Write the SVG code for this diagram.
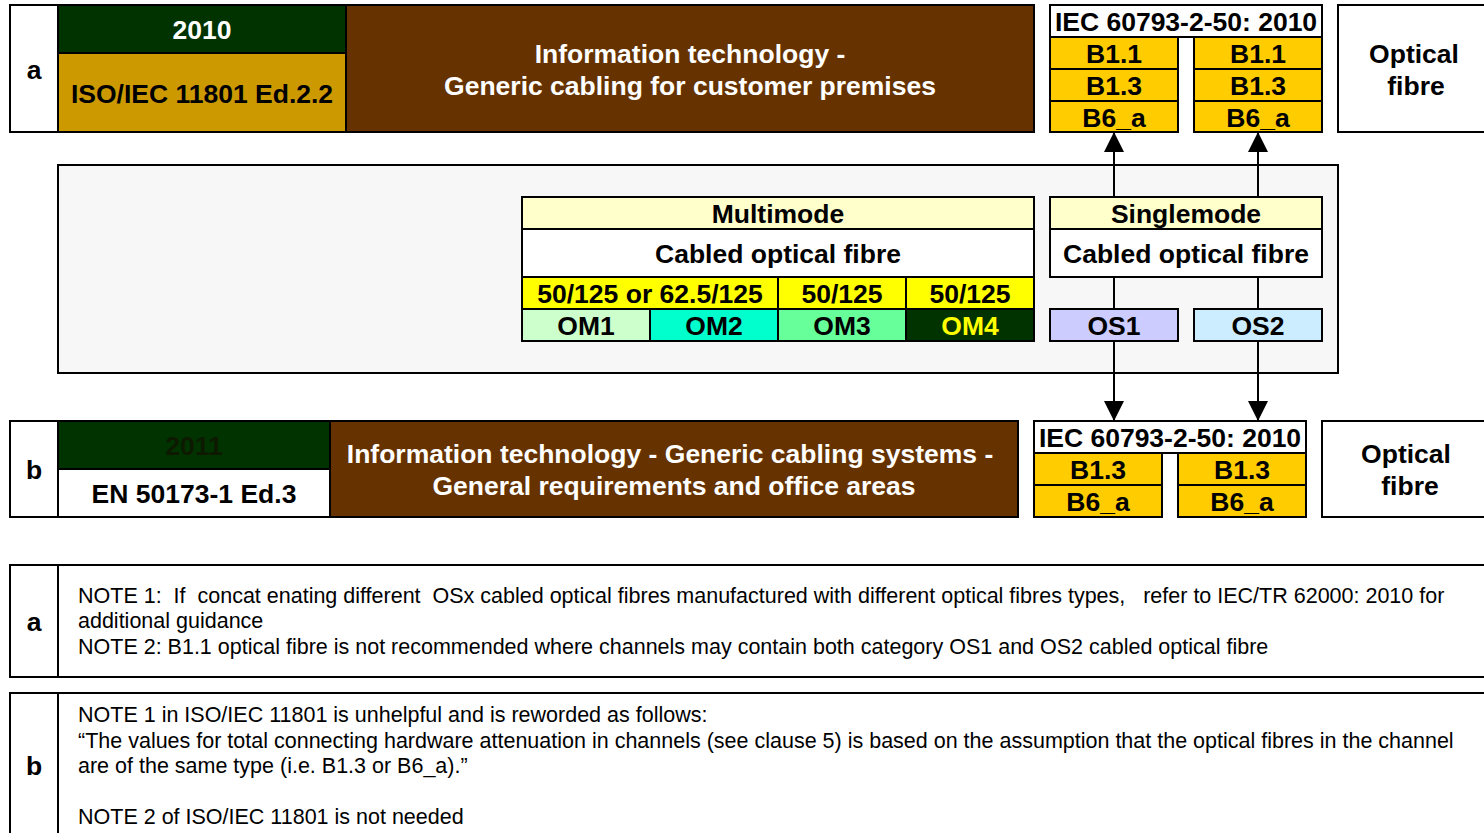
<svg xmlns="http://www.w3.org/2000/svg" width="1484" height="833" viewBox="0 0 1484 833">
<style>
.c{stroke:#000;stroke-width:2}
.b{font-family:"Liberation Sans",Arial,sans-serif;font-weight:bold;font-size:26.5px;text-anchor:middle}
.n{font-family:"Liberation Sans",Arial,sans-serif;font-size:21.5px;white-space:pre}
.w{fill:#fff}
.k{fill:#000}
.ln{stroke:#000;stroke-width:2;fill:none}
</style>
<defs>
<marker id="ahb" viewBox="0 0 20 20" refX="20" refY="10" markerWidth="20" markerHeight="20" markerUnits="userSpaceOnUse" orient="auto"><path d="M0,0 L20,10 L0,20 z" fill="#000"/></marker>
</defs>
<rect width="1484" height="833" fill="#fff"/>

<g id="row-a">
<rect class="c" x="10" y="5" width="48" height="127" fill="#fff"/>
<text class="b k" x="34" y="79">a</text>
<rect class="c" x="58" y="5" width="288" height="48" fill="#003300"/>
<text class="b w" x="202" y="39">2010</text>
<rect class="c" x="58" y="53" width="288" height="79" fill="#CC9900"/>
<text class="b k" x="202" y="103">ISO/IEC 11801 Ed.2.2</text>
<rect class="c" x="346" y="5" width="688" height="127" fill="#663300"/>
<text class="b w" x="690" y="63">Information technology -</text>
<text class="b w" x="690" y="95">Generic cabling for customer premises</text>
</g>

<g id="iec-a">
<rect class="c" x="1050" y="5" width="272" height="32" fill="#fff"/>
<text class="b k" x="1186" y="31">IEC 60793-2-50: 2010</text>
<rect class="c" x="1050" y="37" width="128" height="32" fill="#FFCC00"/>
<text class="b k" x="1114" y="63">B1.1</text>
<rect class="c" x="1050" y="69" width="128" height="32" fill="#FFCC00"/>
<text class="b k" x="1114" y="95">B1.3</text>
<rect class="c" x="1050" y="101" width="128" height="31" fill="#FFCC00"/>
<text class="b k" x="1114" y="127">B6_a</text>
<rect class="c" x="1194" y="37" width="128" height="32" fill="#FFCC00"/>
<text class="b k" x="1258" y="63">B1.1</text>
<rect class="c" x="1194" y="69" width="128" height="32" fill="#FFCC00"/>
<text class="b k" x="1258" y="95">B1.3</text>
<rect class="c" x="1194" y="101" width="128" height="31" fill="#FFCC00"/>
<text class="b k" x="1258" y="127">B6_a</text>
</g>

<g id="optical-a">
<rect class="c" x="1338" y="5" width="160" height="127" fill="#fff"/>
<text class="b k" x="1414" y="63">Optical</text>
<text class="b k" x="1416" y="95">fibre</text>
</g>

<g id="cable-panel">
<rect class="c" x="58" y="165" width="1280" height="208" fill="#F7F7F7"/>
</g>

<g id="connectors">
<line class="ln" x1="1114" y1="197" x2="1114" y2="132" marker-end="url(#ahb)"/>
<line class="ln" x1="1258" y1="197" x2="1258" y2="132" marker-end="url(#ahb)"/>
<line class="ln" x1="1114" y1="277" x2="1114" y2="309"/>
<line class="ln" x1="1258" y1="277" x2="1258" y2="309"/>
<line class="ln" x1="1114" y1="341" x2="1114" y2="421" marker-end="url(#ahb)"/>
<line class="ln" x1="1258" y1="341" x2="1258" y2="421" marker-end="url(#ahb)"/>
</g>

<g id="multimode">
<rect class="c" x="522" y="197" width="512" height="32" fill="#FFFFCC"/>
<text class="b k" x="778" y="223">Multimode</text>
<rect class="c" x="522" y="229" width="512" height="48" fill="#fff"/>
<text class="b k" x="778" y="263">Cabled optical fibre</text>
<rect class="c" x="522" y="277" width="256" height="32" fill="#FFFF00"/>
<text class="b k" x="650" y="303">50/125 or 62.5/125</text>
<rect class="c" x="778" y="277" width="128" height="32" fill="#FFFF00"/>
<text class="b k" x="842" y="303">50/125</text>
<rect class="c" x="906" y="277" width="128" height="32" fill="#FFFF00"/>
<text class="b k" x="970" y="303">50/125</text>
<rect class="c" x="522" y="309" width="128" height="32" fill="#CCFFCC"/>
<text class="b k" x="586" y="335">OM1</text>
<rect class="c" x="650" y="309" width="128" height="32" fill="#00FFCC"/>
<text class="b k" x="714" y="335">OM2</text>
<rect class="c" x="778" y="309" width="128" height="32" fill="#66FF99"/>
<text class="b k" x="842" y="335">OM3</text>
<rect class="c" x="906" y="309" width="128" height="32" fill="#003300"/>
<text class="b" x="970" y="335" fill="#FFFF00">OM4</text>
</g>

<g id="singlemode">
<rect class="c" x="1050" y="197" width="272" height="32" fill="#FFFFCC"/>
<text class="b k" x="1186" y="223">Singlemode</text>
<rect class="c" x="1050" y="229" width="272" height="48" fill="#fff"/>
<text class="b k" x="1186" y="263">Cabled optical fibre</text>
<rect class="c" x="1050" y="309" width="128" height="32" fill="#CCCCFF"/>
<text class="b k" x="1114" y="335">OS1</text>
<rect class="c" x="1194" y="309" width="128" height="32" fill="#CCECFF"/>
<text class="b k" x="1258" y="335">OS2</text>
</g>

<g id="row-b">
<rect class="c" x="10" y="421" width="48" height="96" fill="#fff"/>
<text class="b k" x="34" y="479">b</text>
<rect class="c" x="58" y="421" width="272" height="48" fill="#003300"/>
<text class="b" x="194" y="455" fill="#0d1a00">2011</text>
<rect class="c" x="58" y="469" width="272" height="48" fill="#fff"/>
<text class="b k" x="194" y="503">EN 50173-1 Ed.3</text>
<rect class="c" x="330" y="421" width="688" height="96" fill="#663300"/>
<text class="b w" x="670" y="463">Information technology - Generic cabling systems -</text>
<text class="b w" x="674" y="495">General requirements and office areas</text>
</g>

<g id="iec-b">
<rect class="c" x="1034" y="421" width="272" height="32" fill="#fff"/>
<text class="b k" x="1170" y="447">IEC 60793-2-50: 2010</text>
<rect class="c" x="1034" y="453" width="128" height="32" fill="#FFCC00"/>
<text class="b k" x="1098" y="479">B1.3</text>
<rect class="c" x="1034" y="485" width="128" height="32" fill="#FFCC00"/>
<text class="b k" x="1098" y="511">B6_a</text>
<rect class="c" x="1178" y="453" width="128" height="32" fill="#FFCC00"/>
<text class="b k" x="1242" y="479">B1.3</text>
<rect class="c" x="1178" y="485" width="128" height="32" fill="#FFCC00"/>
<text class="b k" x="1242" y="511">B6_a</text>
</g>

<g id="optical-b">
<rect class="c" x="1322" y="421" width="176" height="96" fill="#fff"/>
<text class="b k" x="1406" y="463">Optical</text>
<text class="b k" x="1410" y="495">fibre</text>
</g>

<g id="notes-a">
<rect class="c" x="10" y="565" width="1490" height="112" fill="#fff"/>
<line class="ln" x1="58" y1="565" x2="58" y2="677"/>
<text class="b k" x="34" y="631">a</text>
<text class="n" x="78" y="603">NOTE 1:  If  concat enating different  OSx cabled optical fibres manufactured with different optical fibres types,   refer to IEC/TR 62000: 2010 for</text>
<text class="n" x="78" y="628">additional guidance</text>
<text class="n" x="78" y="654">NOTE 2: B1.1 optical fibre is not recommended where channels may contain both category OS1 and OS2 cabled optical fibre</text>
</g>

<g id="notes-b">
<rect class="c" x="10" y="693" width="1490" height="160" fill="#fff"/>
<line class="ln" x1="58" y1="693" x2="58" y2="833"/>
<text class="b k" x="34" y="775">b</text>
<text class="n" x="78" y="722">NOTE 1 in ISO/IEC 11801 is unhelpful and is reworded as follows:</text>
<text class="n" x="78" y="748">“The values for total connecting hardware attenuation in channels (see clause 5) is based on the assumption that the optical fibres in the channel</text>
<text class="n" x="78" y="773">are of the same type (i.e. B1.3 or B6_a).”</text>
<text class="n" x="78" y="824">NOTE 2 of ISO/IEC 11801 is not needed</text>
</g>
</svg>
